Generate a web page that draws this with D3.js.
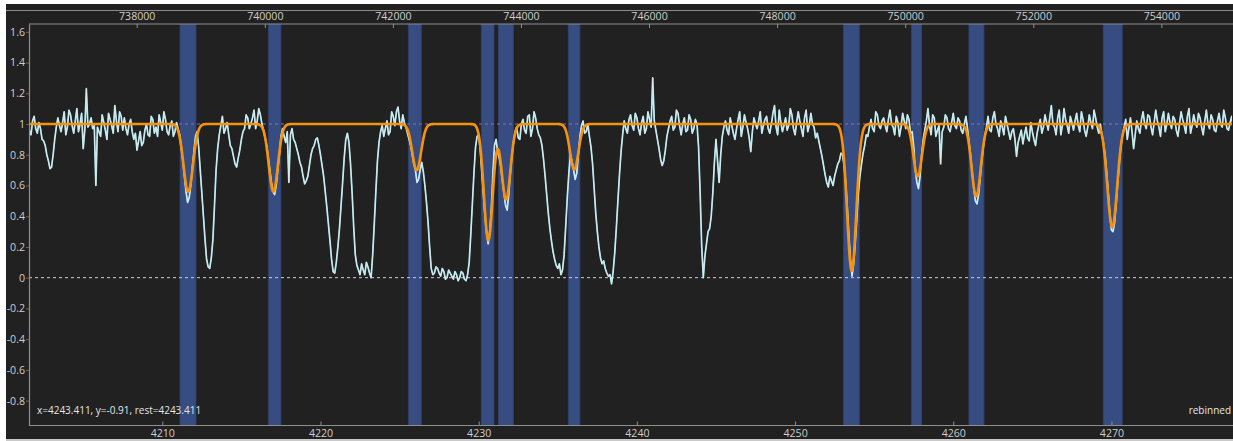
<!DOCTYPE html>
<html>
<head>
<meta charset="utf-8">
<script src="https://cdn.jsdelivr.net/npm/d3@7"></script>
<style>
  html, body { margin: 0; padding: 0; background: #ffffff; }
  svg { display: block; }
  text { font-family: "Open Sans", "Liberation Sans", sans-serif; }
</style>
</head>
<body>
<svg id="chart" width="1233" height="441"></svg>
<script>
// Spectrum samples on a regular wavelength grid (Å)
const waveStart = 4201.6;
const waveStep = 0.1;
const flux = [
  0.96,0.93,1.02,1.05,0.97,0.94,1.01,0.97,0.90,0.89,0.86,0.80,0.76,0.71,0.72,0.80,0.90,0.98,1.04,0.99,
  0.95,1.01,1.08,0.93,0.98,1.09,1.06,0.99,0.94,1.02,1.10,0.95,1.00,1.07,0.84,0.96,1.23,0.98,1.00,1.04,
  0.97,0.99,0.60,0.98,0.95,0.92,1.06,1.01,0.96,0.90,1.07,1.03,0.99,0.94,1.12,1.02,0.95,1.08,1.05,0.96,
  1.04,0.97,0.93,1.00,1.03,0.95,0.90,0.94,0.83,0.89,0.95,0.86,0.88,0.96,1.00,0.93,0.92,1.05,1.03,0.94,
  0.98,0.92,1.06,1.01,0.96,1.08,1.03,0.95,0.93,0.99,1.02,0.92,0.95,1.01,0.97,0.93,0.85,0.76,0.66,0.56,
  0.49,0.52,0.60,0.72,0.82,0.92,0.95,0.85,0.70,0.55,0.40,0.25,0.12,0.07,0.06,0.13,0.25,0.47,0.70,0.84,
  0.93,0.99,1.05,0.94,0.97,1.01,0.93,0.86,0.84,0.79,0.74,0.72,0.78,0.83,0.90,0.95,0.97,1.06,1.04,0.97,
  1.00,1.04,1.09,0.97,1.02,1.10,1.06,1.00,0.96,0.91,0.86,0.78,0.70,0.62,0.56,0.54,0.60,0.70,0.80,0.92,
  0.97,0.92,0.88,0.95,0.62,0.93,0.97,0.90,0.88,0.84,0.80,0.75,0.72,0.66,0.61,0.63,0.66,0.73,0.80,0.84,
  0.86,0.90,0.91,0.86,0.80,0.73,0.66,0.56,0.46,0.35,0.24,0.12,0.04,0.03,0.10,0.20,0.32,0.47,0.62,0.78,
  0.90,0.94,0.88,0.74,0.55,0.33,0.15,0.08,0.05,0.02,0.09,0.05,0.02,0.10,0.07,0.03,0.00,0.15,0.35,0.56,
  0.76,0.88,0.95,0.99,0.92,0.97,1.02,0.93,0.95,1.08,1.05,0.99,1.08,1.11,1.02,0.97,1.06,1.01,0.98,0.94,
  0.90,0.86,0.80,0.74,0.70,0.62,0.64,0.70,0.75,0.69,0.60,0.49,0.36,0.20,0.06,0.02,0.03,0.07,0.06,0.03,
  0.01,0.06,0.04,-0.01,0.00,0.05,0.03,0.01,-0.01,0.04,0.02,-0.02,0.00,0.04,0.03,-0.01,-0.02,0.02,0.10,0.28,
  0.48,0.68,0.85,0.92,0.93,0.83,0.68,0.54,0.40,0.29,0.22,0.30,0.45,0.68,0.86,0.90,0.82,0.78,0.72,0.63,
  0.55,0.47,0.44,0.54,0.68,0.79,0.88,0.95,0.98,0.91,0.90,1.00,1.03,0.96,0.94,1.05,1.06,0.92,0.97,1.08,
  1.04,0.97,0.93,0.91,0.86,0.77,0.66,0.54,0.42,0.32,0.24,0.17,0.12,0.08,0.06,0.09,0.02,0.05,0.15,0.33,
  0.52,0.68,0.80,0.76,0.70,0.64,0.68,0.80,0.92,0.99,1.02,0.94,0.95,1.00,0.92,0.85,0.74,0.58,0.42,0.30,
  0.20,0.13,0.09,0.11,0.06,0.03,0.01,0.02,-0.04,0.04,0.16,0.32,0.50,0.67,0.82,0.93,1.02,0.97,0.94,1.03,
  1.06,0.99,0.96,1.07,1.04,0.97,0.93,1.01,1.05,0.94,0.97,1.08,1.03,0.98,1.30,1.02,0.96,0.90,0.84,0.77,
  0.73,0.76,0.83,0.92,0.97,1.02,1.05,0.96,0.98,1.09,1.07,0.99,0.93,1.00,1.04,0.95,0.96,1.06,1.03,0.94,
  0.97,1.03,1.00,0.85,0.55,0.20,0.00,0.14,0.22,0.30,0.32,0.40,0.55,0.75,0.90,0.76,0.62,0.80,0.92,0.98,
  1.02,0.96,0.93,1.04,0.99,0.94,0.90,0.97,1.03,1.08,0.92,0.98,1.06,1.01,0.97,0.91,0.82,0.95,1.04,1.00,
  0.97,1.02,1.08,0.94,0.99,1.03,1.05,0.97,0.94,1.00,1.07,1.12,0.98,0.93,1.09,1.01,0.95,0.99,1.04,0.96,
  0.99,1.10,1.06,0.97,0.93,1.01,1.08,1.02,0.97,0.92,1.04,1.09,0.95,0.99,1.07,1.00,0.98,0.91,0.94,0.89,
  0.84,0.79,0.73,0.67,0.62,0.59,0.66,0.63,0.60,0.66,0.70,0.74,0.76,0.81,0.80,0.73,0.62,0.46,0.28,0.12,
  0.01,0.09,0.22,0.38,0.55,0.66,0.74,0.81,0.86,0.93,0.92,0.98,1.03,0.97,0.95,1.08,1.06,0.99,0.97,1.02,
  1.04,0.99,0.95,1.03,1.09,1.00,0.98,0.93,1.05,1.01,0.92,0.98,1.07,1.02,0.97,1.06,1.03,0.94,0.95,0.85,
  0.70,0.62,0.58,0.66,0.80,0.90,0.96,1.02,1.10,0.99,0.93,1.06,1.04,0.92,0.96,0.99,0.74,0.95,0.98,1.06,
  1.04,0.97,0.95,1.01,1.07,0.99,0.97,1.04,1.02,0.96,0.94,1.00,1.05,0.97,0.88,0.79,0.68,0.58,0.50,0.48,
  0.54,0.65,0.76,0.85,0.92,0.98,1.05,0.96,0.95,1.04,1.08,1.00,0.97,0.92,1.02,0.98,0.93,1.05,1.00,0.95,
  0.90,0.95,0.97,0.90,0.79,0.88,0.92,0.96,0.87,0.93,0.98,0.91,0.89,1.01,0.95,0.90,0.86,0.94,0.99,1.03,
  0.94,0.98,1.06,1.01,0.96,1.04,1.12,1.00,0.98,0.93,1.04,1.09,0.93,0.99,1.10,1.03,0.99,0.94,1.05,1.01,
  0.96,1.02,1.07,0.99,0.95,1.08,1.03,0.96,0.92,0.98,1.06,1.01,0.97,1.09,1.04,0.98,0.94,1.00,0.93,0.87,
  0.80,0.68,0.55,0.42,0.31,0.30,0.36,0.48,0.62,0.75,0.86,0.93,0.98,1.03,0.90,0.97,1.04,0.95,0.84,0.93,
  1.02,0.97,0.94,1.03,1.08,1.00,0.97,1.06,1.05,0.98,0.93,1.01,1.09,1.02,0.98,0.92,1.04,1.08,0.95,1.00,
  1.07,1.01,0.97,1.05,1.03,0.96,0.92,1.00,1.08,1.03,0.99,0.94,1.05,1.10,0.94,0.99,1.06,1.01,0.98,1.07,
  1.04,0.98,0.93,1.02,1.09,1.00,0.97,1.06,1.03,0.96,0.95,1.02,1.07,1.00,0.98,1.09,1.04,0.97,0.96,1.01,
  1.05,0.98,1.00,1.04
];

// Absorption-line fit components: centre (Å), depth, gaussian sigma (Å)
const lineCenters = [4211.64, 4217.02, 4226.08, 4230.61, 4231.73, 4236.04, 4253.58, 4257.75, 4261.45, 4270.05];
const lineDepths  = [0.44, 0.44, 0.30, 0.755, 0.49, 0.295, 0.955, 0.34, 0.47, 0.67];
const lineSigmas  = [0.30, 0.29, 0.28, 0.28, 0.28, 0.27, 0.29, 0.27, 0.29, 0.31];

// Fitting windows (Å)
const fitWindows = [
  [4211.12, 4212.13], [4216.70, 4217.50], [4225.55, 4226.37], [4230.16, 4230.97],
  [4231.24, 4232.19], [4235.66, 4236.40], [4253.05, 4254.06], [4257.35, 4258.00],
  [4260.99, 4261.94], [4269.48, 4270.68]
];

// Axis ticks
const waveTicks = [4210, 4220, 4230, 4240, 4250, 4260, 4270];
const topTicks = [738000, 740000, 742000, 744000, 746000, 748000, 750000, 752000, 754000];
const fluxTicks = [-0.8, -0.6, -0.4, -0.2, 0, 0.2, 0.4, 0.6, 0.8, 1, 1.2, 1.4, 1.6];

const statusText = "x=4243.411, y=-0.91, rest=4243.411";
const modeText = "rebinned";

// ---- layout ----
const W = 1233, H = 441;
const plot = { left: 29, right: 1232, top: 24, bottom: 425.5 };

const svg = d3.select("#chart");

const x = d3.scaleLinear().domain([4201.574, 4277.62]).range([plot.left, plot.right]);
const xTop = d3.scaleLinear().domain([736318, 755103]).range([plot.left, plot.right]);
const y = d3.scaleLinear().domain([-0.962, 1.651]).range([plot.bottom, plot.top]);

// panel background
svg.append("rect").attr("x", 6).attr("y", 4).attr("width", W - 6).attr("height", 435).attr("fill", "#212121");
svg.append("rect").attr("x", 6).attr("y", 439).attr("width", W - 6).attr("height", 2).attr("fill", "#c9c9c9");
svg.append("line").attr("x1", 6).attr("x2", W).attr("y1", 10.5).attr("y2", 10.5)
  .attr("stroke", "#8c8c8c").attr("stroke-width", 1);

svg.append("defs").append("clipPath").attr("id", "plotClip")
  .append("rect").attr("x", plot.left).attr("y", plot.top)
  .attr("width", plot.right - plot.left).attr("height", plot.bottom - plot.top);

const body = svg.append("g").attr("clip-path", "url(#plotClip)");

// fitting windows
body.append("g").selectAll("rect").data(fitWindows).join("rect")
  .attr("x", d => x(d[0]))
  .attr("y", plot.top)
  .attr("width", d => x(d[1]) - x(d[0]))
  .attr("height", plot.bottom - plot.top)
  .attr("fill", "#374c80")
  .attr("stroke", "#2e4170")
  .attr("stroke-width", 0.8);

// continuum and zero reference lines
body.append("line").attr("x1", plot.left).attr("x2", plot.right)
  .attr("y1", y(1)).attr("y2", y(1))
  .attr("stroke", "#9866c8").attr("stroke-width", 1).attr("stroke-dasharray", "3,3");
body.append("line").attr("x1", plot.left).attr("x2", plot.right)
  .attr("y1", y(0)).attr("y2", y(0))
  .attr("stroke", "#d9c9e6").attr("stroke-width", 1).attr("stroke-dasharray", "3,3");

// spectrum: cyan trace with a light core
const spectrum = flux.map((f, i) => [waveStart + i * waveStep, f]);
const specLine = d3.line().x(d => x(d[0])).y(d => y(d[1]));
body.append("path").datum(spectrum).attr("d", specLine)
  .attr("fill", "none").attr("stroke", "#b4f6ff").attr("stroke-width", 1.7)
  .attr("stroke-linejoin", "round").attr("opacity", 0.95);
body.append("path").datum(spectrum).attr("d", specLine)
  .attr("fill", "none").attr("stroke", "#e6e6e6").attr("stroke-width", 0.7)
  .attr("stroke-linejoin", "round");

// fitted model: unit continuum minus gaussian components
const model = d3.range(x.domain()[0], x.domain()[1], 0.02).map(w => {
  let f = 1;
  lineCenters.forEach((c, k) => {
    const t = (w - c) / lineSigmas[k];
    f -= lineDepths[k] * Math.exp(-0.5 * t * t);
  });
  return [w, f];
});
body.append("path").datum(model).attr("d", specLine)
  .attr("fill", "none").attr("stroke", "#f5930f").attr("stroke-width", 2.6)
  .attr("stroke-linejoin", "round");

// ---- axes ----
const axisColor = "#8f8f8f";
const labelColor = "#cfcfcf";

const bottomAxis = svg.append("g").attr("transform", `translate(0,${plot.bottom})`)
  .call(d3.axisBottom(x).tickValues(waveTicks).tickSizeInner(-4).tickSizeOuter(0).tickPadding(4).tickFormat(d3.format("d")));
const topAxis = svg.append("g").attr("transform", `translate(0,${plot.top})`)
  .call(d3.axisTop(xTop).tickValues(topTicks).tickSizeInner(-4).tickSizeOuter(0).tickPadding(4).tickFormat(d3.format("d")));
const leftAxis = svg.append("g").attr("transform", `translate(${plot.left},0)`)
  .call(d3.axisLeft(y).tickValues(fluxTicks).tickSizeInner(3).tickSizeOuter(0).tickPadding(1)
    .tickFormat(v => String(+v.toFixed(1))));

[bottomAxis, topAxis, leftAxis].forEach(g => {
  g.select(".domain").attr("stroke", axisColor).attr("stroke-width", 1.2);
  g.selectAll(".tick line").attr("stroke", axisColor);
  g.selectAll(".tick text").attr("fill", labelColor).attr("font-size", "10.6px")
    .attr("font-family", "'Open Sans', 'Liberation Sans', sans-serif");
});
leftAxis.selectAll(".tick line").attr("stroke", "#6d6552");
bottomAxis.select(".domain").attr("d", `M${plot.left},0H${W}`);
topAxis.select(".domain").attr("d", `M${plot.left},0H${W}`);

// status readouts
svg.append("text").attr("x", 37).attr("y", 414).attr("fill", "#e6e6e6")
  .attr("font-size", "10px").text(statusText);
svg.append("text").attr("x", 1231).attr("y", 414).attr("text-anchor", "end").attr("fill", "#e6e6e6")
  .attr("font-size", "10px").text(modeText);
</script>
</body>
</html>
